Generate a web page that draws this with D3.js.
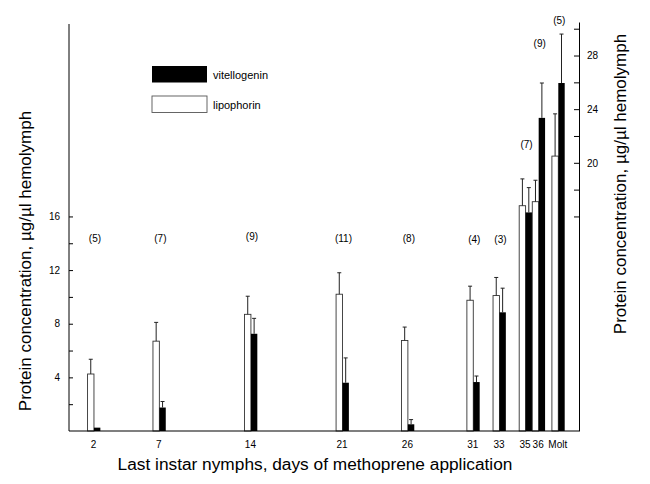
<!DOCTYPE html>
<html>
<head>
<meta charset="utf-8">
<script src="https://cdn.jsdelivr.net/npm/d3@7"></script>
<style>
  body { margin: 0; background: #fff; }
  svg { font-family: "Liberation Sans", Arial, sans-serif; }
</style>
</head>
<body>
<div id="chart"></div>
<script>
// days of methoprene application (Molt placed just after day 36)
const dayLabels = ['2', '7', '14', '21', '26', '31', '33', '35', '36', 'Molt'];
const days = [2, 7, 14, 21, 26, 31, 33, 35, 36, 37.5];

// protein concentration, ug/ul hemolymph
const lipophorin = [4.25, 6.7, 8.7, 10.2, 6.75, 9.75, 10.1, 16.8, 17.1, 20.5];
const lipophorinErr = [1.1, 1.4, 1.35, 1.6, 1.0, 1.05, 1.35, 2.0, 1.6, 3.15];
const vitellogenin = [0.25, 1.75, 7.25, 3.6, 0.5, 3.65, 8.85, 16.3, 23.35, 25.95];
const vitellogeninErr = [0, 0.45, 1.15, 1.85, 0.35, 0.45, 1.8, 1.85, 2.6, 3.65];

// sample sizes and the level (in axis units) where each one is written
const sampleSizes = [5, 7, 9, 11, 8, 4, 3, 7, 9, 5];
const sampleLabelAt = [14.35, 14.35, 14.5, 14.35, 14.35, 14.25, 14.3, 21.4, 28.9, 30.6];

const leftTicks = [2, 4, 6, 8, 10, 12, 14, 16];
const rightTicks = [16, 18, 20, 22, 24, 26, 28, 30];

const width = 650;
const height = 484;
const plot = { left: 69, right: 579, top: 22, bottom: 431 };
const barW = 6.4;

const svg = d3.select('#chart').append('svg')
  .attr('width', width)
  .attr('height', height);

const x = d3.scaleLinear()
  .domain([0, 39])
  .range([67.8, 67.8 + 39 * 13.08]);

const y = d3.scaleLinear()
  .domain([0, 30.5])
  .range([plot.bottom, plot.top]);

const groups = days.map((d, i) => ({
  day: d,
  label: dayLabels[i],
  lip: lipophorin[i],
  lipErr: lipophorinErr[i],
  vit: vitellogenin[i],
  vitErr: vitellogeninErr[i],
  n: sampleSizes[i],
  nAt: sampleLabelAt[i],
}));

// bars
const g = svg.append('g').selectAll('g')
  .data(groups)
  .join('g');

g.append('rect')
  .attr('x', d => x(d.day) - barW)
  .attr('y', d => y(d.lip))
  .attr('width', barW)
  .attr('height', d => y(0) - y(d.lip))
  .attr('fill', '#fff')
  .attr('stroke', '#333')
  .attr('stroke-width', 0.9);

g.append('rect')
  .attr('x', d => x(d.day))
  .attr('y', d => y(d.vit))
  .attr('width', barW)
  .attr('height', d => y(0) - y(d.vit))
  .attr('fill', '#000');

// error bars
const errBar = (sel, cx, val, err) => {
  sel.filter(d => err(d) > 0).append('path')
    .attr('d', d => {
      const xc = cx(d);
      const y0 = y(val(d));
      const y1 = y(val(d) + err(d));
      return `M${xc},${y0}V${y1}M${xc - 2},${y1}H${xc + 2}`;
    })
    .attr('fill', 'none')
    .attr('stroke', '#222')
    .attr('stroke-width', 1);
};
errBar(g, d => x(d.day) - barW / 2, d => d.lip, d => d.lipErr);
errBar(g, d => x(d.day) + barW / 2, d => d.vit, d => d.vitErr);

// sample sizes
g.append('text')
  .attr('x', d => x(d.day) + 1)
  .attr('y', d => y(d.nAt))
  .attr('text-anchor', 'middle')
  .attr('dominant-baseline', 'central')
  .attr('font-size', 10)
  .text(d => `(${d.n})`);

// axes
const leftAxis = d3.axisLeft(y)
  .tickValues(leftTicks)
  .tickFormat(d => (d % 4 === 0 ? d : ''))
  .tickSizeInner(-4)
  .tickSizeOuter(0)
  .tickPadding(9);

svg.append('g')
  .attr('transform', `translate(${plot.left},0)`)
  .call(leftAxis)
  .call(s => s.select('.domain').attr('d', `M0,${plot.bottom}V${plot.top + 2}`))
  .call(s => s.selectAll('text').attr('font-size', 10).attr('font-family', null));

const rightAxis = d3.axisRight(y)
  .tickValues(rightTicks)
  .tickFormat(d => (d % 4 === 0 && d >= 20 && d <= 28 ? d : ''))
  .tickSizeInner(-5)
  .tickSizeOuter(0)
  .tickPadding(8);

svg.append('g')
  .attr('transform', `translate(${plot.right},0)`)
  .call(rightAxis)
  .call(s => s.selectAll('text').attr('font-size', 10).attr('font-family', null));

svg.append('line')
  .attr('x1', plot.left)
  .attr('x2', plot.right)
  .attr('y1', plot.bottom)
  .attr('y2', plot.bottom)
  .attr('stroke', '#000')
  .attr('stroke-width', 1.2);

const bottomAxis = d3.axisBottom(x)
  .tickValues(days)
  .tickFormat((d, i) => dayLabels[i])
  .tickSize(0)
  .tickPadding(10);

svg.append('g')
  .attr('transform', `translate(-1,${plot.bottom})`)
  .call(bottomAxis)
  .call(s => s.select('.domain').remove())
  .call(s => s.selectAll('text').attr('font-size', 10).attr('font-family', null));

// axis titles
svg.append('text')
  .attr('transform', 'translate(25,261) rotate(-90)')
  .attr('text-anchor', 'middle')
  .attr('dominant-baseline', 'central')
  .attr('font-size', 17)
  .text('Protein concentration, µg/µl hemolymph');

svg.append('text')
  .attr('transform', 'translate(620,184) rotate(-90)')
  .attr('text-anchor', 'middle')
  .attr('dominant-baseline', 'central')
  .attr('font-size', 17)
  .text('Protein concentration, µg/µl hemolymph');

svg.append('text')
  .attr('x', 315)
  .attr('y', 464)
  .attr('text-anchor', 'middle')
  .attr('dominant-baseline', 'central')
  .attr('font-size', 17.3)
  .text('Last instar nymphs, days of methoprene application');

// legend
const legend = svg.append('g').attr('transform', 'translate(152,66)');
const legendItems = [
  { name: 'vitellogenin', fill: '#000' },
  { name: 'lipophorin', fill: '#fff' },
];
const li = legend.selectAll('g')
  .data(legendItems)
  .join('g')
  .attr('transform', (d, i) => `translate(0,${i * 30})`);

li.append('rect')
  .attr('width', 55)
  .attr('height', 16.5)
  .attr('fill', d => d.fill)
  .attr('stroke', d => (d.fill === '#000' ? 'none' : '#555'))
  .attr('stroke-width', 0.9);

li.append('text')
  .attr('x', 61)
  .attr('y', 9)
  .attr('dominant-baseline', 'central')
  .attr('font-size', 11)
  .text(d => d.name);
</script>
</body>
</html>
